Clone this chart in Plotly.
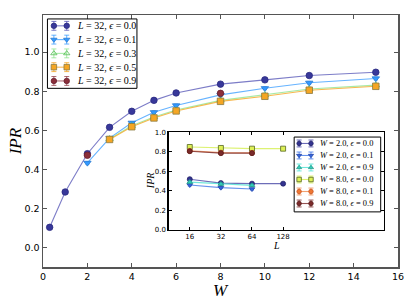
import plotly.graph_objects as go

# ---- main panel data (L = 32) ----
W_e00 = [0.3, 1, 2, 3, 4, 5, 6, 8, 10, 12, 15]
ipr_e00 = [0.103, 0.284, 0.480, 0.615, 0.697, 0.753, 0.791, 0.836, 0.858, 0.880, 0.897]
W_e01 = [2, 3, 4, 5, 6, 8, 10, 12, 15]
ipr_e01 = [0.433, 0.560, 0.638, 0.692, 0.727, 0.781, 0.815, 0.843, 0.865]
W_e03 = [3, 4, 5, 6, 8, 10, 12, 15]
ipr_e03 = [0.556, 0.623, 0.668, 0.704, 0.753, 0.781, 0.811, 0.831]
W_e05 = [3, 4, 5, 6, 8, 10, 12, 15]
ipr_e05 = [0.553, 0.618, 0.663, 0.699, 0.748, 0.774, 0.805, 0.825]
W_e09 = [2, 8]
ipr_e09 = [0.472, 0.789]
err_main = 0.007

# ---- inset data ----
L_w2e0 = [16, 32, 64, 128]
ipr_w2e0 = [0.518, 0.478, 0.472, 0.472]
L_w2e1 = [16, 32, 64]
ipr_w2e1 = [0.458, 0.431, 0.417]
L_w2e9 = [16, 32, 64]
ipr_w2e9 = [0.488, 0.468, 0.455]
L_w8e0 = [16, 32, 64, 128]
ipr_w8e0 = [0.848, 0.838, 0.831, 0.831]
L_w8e1 = [16, 32, 64]
ipr_w8e1 = [0.808, 0.790, 0.788]
L_w8e9 = [16, 32, 64]
ipr_w8e9 = [0.805, 0.785, 0.785]
err_inset = 0.01

main_ticks_x = [0, 2, 4, 6, 8, 10, 12, 14, 16]
main_ticks_y = [0.0, 0.2, 0.4, 0.6, 0.8, 1.0]
inset_ticks_x = [16, 32, 64, 128]
inset_ticks_y = [0.0, 0.2, 0.4, 0.6, 0.8, 1.0]

SERIF = "Liberation Serif"
SANS = "DejaVu Sans"

# figure geometry (pixels)
FW, FH = 415, 305
ML, MR, MT, MB = 43, 13, 11, 38
PX0, PX1 = ML, FW - MR
PY0, PY1 = MT, FH - MB


def px2paper(px, py):
    return (px - PX0) / (PX1 - PX0), (PY1 - py) / (PY1 - PY0)


def lab(a, av, bv):
    return f"<i>{a}</i> = {av}, <i>ϵ</i> = {bv}"


fig = go.Figure()

# (x, y, label, symbol, marker colour, line colour, marker edge, draw line)
main_series = [
    (W_e00, ipr_e00, lab("L", 32, "0.0"), "circle", "#38389a", "rgba(80,80,180,0.75)", "#2a2a80", True),
    (W_e01, ipr_e01, lab("L", 32, "0.1"), "triangle-down", "#3399ff", "rgba(51,153,255,0.75)", "#2a7ad0", True),
    (W_e03, ipr_e03, lab("L", 32, "0.3"), "triangle-up-open", "#55bb55", "rgba(130,225,130,0.7)", "#55bb55", True),
    (W_e05, ipr_e05, lab("L", 32, "0.5"), "square", "#f5a623", "rgba(245,166,35,0.8)", "#8a7a40", True),
    (W_e09, ipr_e09, lab("L", 32, "0.9"), "circle", "#8b2f3a", "rgba(139,47,58,0.7)", "#6a2030", False),
]
for xs, ys, name, sym, mc, lc, ec, ln in main_series:
    fig.add_trace(go.Scatter(
        x=xs, y=ys, mode="lines+markers" if ln else "markers", name=name, showlegend=False,
        line=dict(color=lc, width=1.1),
        marker=dict(symbol=sym, size=6.5, color=mc, line=dict(color=ec, width=0.8)),
        error_y=dict(type="constant", value=err_main, color=lc, thickness=1, width=2),
        xaxis="x", yaxis="y",
    ))

inset_series = [
    (L_w2e0, ipr_w2e0, lab("W", "2.0", "0.0"), "circle", "#33338f", "rgba(60,60,160,0.75)", "#22226a"),
    (L_w2e1, ipr_w2e1, lab("W", "2.0", "0.1"), "triangle-down", "#3366dd", "rgba(51,110,230,0.75)", "#2244aa"),
    (L_w2e9, ipr_w2e9, lab("W", "2.0", "0.9"), "triangle-up", "#33ccbb", "rgba(64,224,208,0.75)", "#229988"),
    (L_w8e0, ipr_w8e0, lab("W", "8.0", "0.0"), "square", "#ddf055", "rgba(215,240,90,0.85)", "#556622"),
    (L_w8e1, ipr_w8e1, lab("W", "8.0", "0.1"), "circle", "#ee7733", "rgba(238,119,51,0.7)", "#cc5522"),
    (L_w8e9, ipr_w8e9, lab("W", "8.0", "0.9"), "circle", "#7a2a2a", "rgba(122,42,42,0.8)", "#5a1a1a"),
]
for xs, ys, name, sym, mc, lc, ec in inset_series:
    fig.add_trace(go.Scatter(
        x=xs, y=ys, mode="lines+markers", name=name, showlegend=False,
        line=dict(color=lc, width=1.1),
        marker=dict(symbol=sym, size=5, color=mc, line=dict(color=ec, width=0.8)),
        error_y=dict(type="constant", value=err_inset, color=lc, thickness=1, width=2),
        xaxis="x2", yaxis="y2",
    ))

# ---- hand-built legends (pixel overlay axis x3/y3) ----
shapes = []
annotations = []


def build_legend(series, box, first_row, row_gap, mx, tx, msize, fsize, bar):
    x0, y0, x1, y1 = box
    shapes.append(dict(type="rect", xref="x3", yref="y3", x0=x0, x1=x1, y0=y0, y1=y1,
                       line=dict(color="black", width=1), fillcolor="white", layer="below"))
    for i, s in enumerate(series):
        name, sym, mc, lc, ec = s[2], s[3], s[4], s[5], s[6]
        ry = first_row + i * row_gap
        fig.add_trace(go.Scatter(
            x=list(mx), y=[ry, ry], mode="lines+markers", showlegend=False, hoverinfo="skip",
            line=dict(color=lc, width=1.1),
            marker=dict(symbol=sym, size=msize, color=mc, line=dict(color=ec, width=0.8)),
            error_y=dict(type="constant", value=bar, color=lc, thickness=1, width=2.5),
            xaxis="x3", yaxis="y3", cliponaxis=False,
        ))
        annotations.append(dict(x=tx, y=ry, xref="x3", yref="y3", text=name, showarrow=False,
                                xanchor="left", yanchor="middle",
                                font=dict(family=SERIF, size=fsize, color="black")))


build_legend(main_series, (47.5, 15, 138, 85.5), 22, 14, (54, 67), 75, 5.5, 10, 4.5)
build_legend(inset_series, (297, 135, 384.5, 211), 141.5, 12.2, (302, 314), 321, 4.5, 8.4, 3.5)

# axis titles
for txt, px, py, size, ang in [("<i>W</i>", (PX0 + PX1) / 2, 291, 17, 0),
                               ("<i>IPR</i>", 15, (PY0 + PY1) / 2, 17, -90),
                               ("<i>L</i>", 279, 245, 10, 0),
                               ("<i>IPR</i>", 152, 179, 10, -90)]:
    ax, ay = px2paper(px, py)
    annotations.append(dict(x=ax, y=ay, xref="paper", yref="paper", text=txt, showarrow=False,
                            xanchor="center", yanchor="middle", textangle=ang,
                            font=dict(family=SERIF, size=size, color="black")))

axis_common = dict(showgrid=False, zeroline=False, ticks="inside", mirror="ticks", showline=True)

fig.update_layout(
    width=FW, height=FH,
    margin=dict(l=ML, r=MR, t=MT, b=MB),
    paper_bgcolor="white", plot_bgcolor="rgba(0,0,0,0)",
    font=dict(family=SANS, size=9, color="black"),
    showlegend=False,
    hovermode=False,
    xaxis=dict(**axis_common, range=[0, 16], tickvals=main_ticks_x,
               linecolor="#555555", linewidth=1.5, ticklen=4, tickcolor="#555555",
               tickfont=dict(size=9.5), domain=[0, 1], anchor="y"),
    yaxis=dict(**axis_common, range=[-0.1, 1.19], tickvals=main_ticks_y,
               ticktext=[f"{v:.1f}" for v in main_ticks_y],
               linecolor="#555555", linewidth=1.5, ticklen=4, tickcolor="#555555",
               tickfont=dict(size=9.5), domain=[0, 1], anchor="x"),
    xaxis2=dict(**axis_common, type="log", range=[1.0, 3.085], tickvals=inset_ticks_x,
                ticktext=[str(v) for v in inset_ticks_x],
                linecolor="black", linewidth=1.3, ticklen=3, tickcolor="black",
                tickfont=dict(size=7), domain=[0.354, 0.961], anchor="y2"),
    yaxis2=dict(**axis_common, range=[0, 1.0], tickvals=inset_ticks_y,
                ticktext=[f"{v:.1f}" for v in inset_ticks_y],
                linecolor="black", linewidth=1.3, ticklen=3, tickcolor="black",
                tickfont=dict(size=7), domain=[0.148, 0.535], anchor="x2"),
    xaxis3=dict(range=[PX0, PX1], visible=False, domain=[0, 1], anchor="y3", fixedrange=True),
    yaxis3=dict(range=[PY1, PY0], visible=False, domain=[0, 1], anchor="x3", fixedrange=True),
    shapes=shapes,
    annotations=annotations,
)

fig.write_html("out.html", config={"displayModeBar": False, "staticPlot": True},
               post_script="document.body.style.margin='0';document.body.style.overflow='hidden';")
